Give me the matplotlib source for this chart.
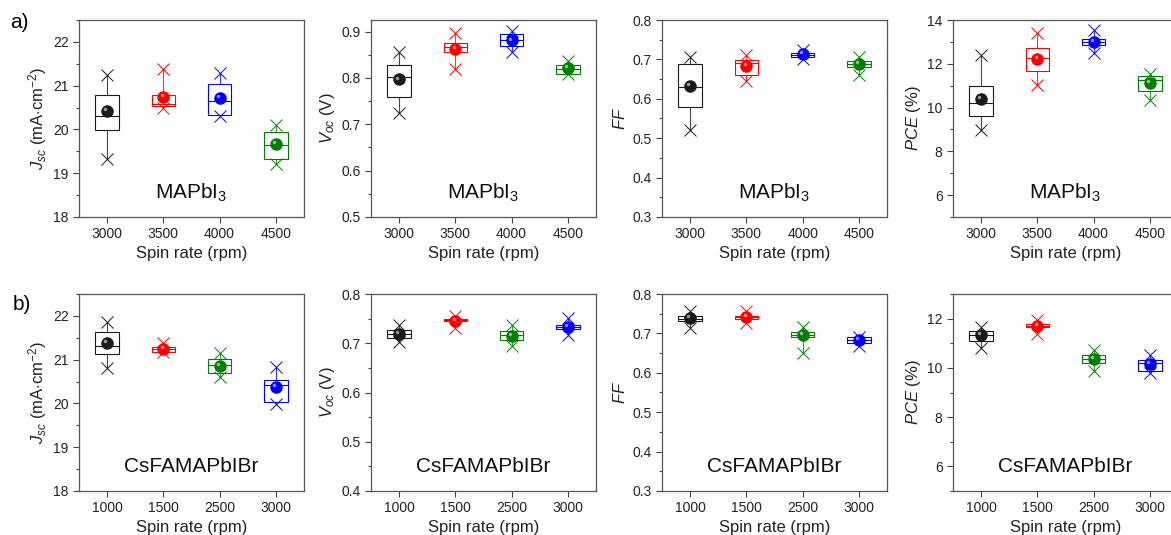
import numpy as np
import matplotlib
matplotlib.use("Agg")
import matplotlib.pyplot as plt
from matplotlib.transforms import offset_copy
from matplotlib.ticker import MultipleLocator

plt.rcParams['font.family'] = ['Liberation Sans', 'DejaVu Sans']
plt.rcParams['mathtext.fontset'] = 'custom'
plt.rcParams['mathtext.rm'] = 'Liberation Sans'
plt.rcParams['mathtext.it'] = 'Liberation Sans:italic'

########
# Data #
########
rates_a = ['3000', '3500', '4000', '4500']
rates_b = ['1000', '1500', '2500', '3000']
colors_a = ['#1a1a1a', 'red', 'blue', 'green']
colors_b = ['#1a1a1a', 'red', 'green', 'blue']

# a) MAPbI3 : min, q1, median, q3, max, mean
jsc_a_min = [19.33, 20.50, 20.30, 19.22]
jsc_a_q1 = [19.98, 20.53, 20.34, 19.33]
jsc_a_med = [20.31, 20.58, 20.66, 19.64]
jsc_a_q3 = [20.78, 20.78, 21.04, 19.94]
jsc_a_max = [21.25, 21.38, 21.28, 20.11]
jsc_a_mean = [20.43, 20.75, 20.72, 19.67]

voc_a_min = [0.725, 0.819, 0.855, 0.808]
voc_a_q1 = [0.759, 0.855, 0.868, 0.808]
voc_a_med = [0.803, 0.867, 0.881, 0.820]
voc_a_q3 = [0.827, 0.876, 0.895, 0.827]
voc_a_max = [0.855, 0.896, 0.901, 0.837]
voc_a_mean = [0.797, 0.863, 0.881, 0.821]

ff_a_min = [0.520, 0.645, 0.700, 0.661]
ff_a_q1 = [0.580, 0.660, 0.707, 0.680]
ff_a_med = [0.631, 0.690, 0.711, 0.689]
ff_a_q3 = [0.689, 0.698, 0.716, 0.696]
ff_a_max = [0.707, 0.711, 0.724, 0.705]
ff_a_mean = [0.632, 0.684, 0.713, 0.688]

pce_a_min = [8.99, 11.04, 12.48, 10.36]
pce_a_q1 = [9.60, 11.69, 12.88, 10.74]
pce_a_med = [10.20, 12.28, 13.01, 11.24]
pce_a_q3 = [10.99, 12.71, 13.15, 11.42]
pce_a_max = [12.38, 13.39, 13.54, 11.54]
pce_a_mean = [10.40, 12.24, 13.01, 11.12]

# b) CsFAMAPbIBr
jsc_b_min = [20.80, 21.17, 20.61, 19.99]
jsc_b_q1 = [21.12, 21.18, 20.69, 20.03]
jsc_b_med = [21.31, 21.25, 20.88, 20.42]
jsc_b_q3 = [21.63, 21.30, 21.01, 20.53]
jsc_b_max = [21.87, 21.38, 21.15, 20.84]
jsc_b_mean = [21.38, 21.24, 20.86, 20.37]

voc_b_min = [0.702, 0.731, 0.694, 0.716]
voc_b_q1 = [0.711, 0.746, 0.706, 0.729]
voc_b_med = [0.719, 0.748, 0.717, 0.734]
voc_b_q3 = [0.726, 0.749, 0.725, 0.738]
voc_b_max = [0.738, 0.756, 0.738, 0.751]
voc_b_mean = [0.719, 0.746, 0.715, 0.734]

ff_b_min = [0.714, 0.726, 0.650, 0.669]
ff_b_q1 = [0.731, 0.736, 0.690, 0.675]
ff_b_med = [0.737, 0.741, 0.697, 0.683]
ff_b_q3 = [0.745, 0.745, 0.703, 0.692]
ff_b_max = [0.758, 0.756, 0.716, 0.692]
ff_b_mean = [0.739, 0.742, 0.697, 0.684]

pce_b_min = [10.81, 11.39, 9.87, 9.78]
pce_b_q1 = [11.08, 11.64, 10.21, 9.87]
pce_b_med = [11.33, 11.72, 10.38, 10.18]
pce_b_q3 = [11.51, 11.80, 10.52, 10.34]
pce_b_max = [11.66, 11.93, 10.72, 10.54]
pce_b_mean = [11.33, 11.70, 10.35, 10.17]

#############
# Functions #
#############

def draw_panel(ax, stats, colors, labels, ylim, major, minor, ylabel, material):
    '''Origin-like box chart: box, median, whiskers with x at min/max, mean ball.'''
    vmin, q1, med, q3, vmax, mean = stats
    w = 0.42
    for i, c in enumerate(colors):
        ax.add_patch(plt.Rectangle((i - w / 2, q1[i]), w, q3[i] - q1[i],
                                   fill=False, edgecolor=c, lw=0.8))
        ax.plot([i - w / 2, i + w / 2], [med[i], med[i]], color=c, lw=0.8)
        if vmax[i] > q3[i]:
            ax.plot([i, i], [q3[i], vmax[i]], color=c, lw=0.8, alpha=0.8)
        if vmin[i] < q1[i]:
            ax.plot([i, i], [vmin[i], q1[i]], color=c, lw=0.8, alpha=0.8)
        ax.plot([i, i], [vmin[i], vmax[i]], ls='none', marker='x', ms=8.5,
                mew=0.7, color=c)
        ax.plot(i, mean[i], marker='o', ms=8, color=c, mec=c, zorder=5)
        shine = offset_copy(ax.transData, fig=ax.figure, x=-1.3, y=1.3, units='points')
        ax.plot(i, mean[i], marker='o', ms=2.5, color='white', alpha=0.55,
                mec='none', transform=shine, zorder=6)
    ax.set_xlim(-0.5, 3.5)
    ax.set_xticks(range(4))
    ax.set_xticklabels(labels)
    ax.set_ylim(*ylim)
    ax.yaxis.set_major_locator(MultipleLocator(major))
    ax.yaxis.set_minor_locator(MultipleLocator(minor))
    ax.tick_params(axis='both', which='major', direction='out', length=4,
                   width=0.8, labelsize=10, colors='#444444', labelcolor='#222222')
    ax.tick_params(axis='y', which='minor', direction='out', length=2.5,
                   width=0.8, colors='#444444')
    for s in ax.spines.values():
        s.set_color('#555555')
        s.set_linewidth(0.9)
    ax.set_xlabel('Spin rate (rpm)', fontsize=12, labelpad=3, color='#222222')
    ax.set_ylabel(ylabel, fontsize=12, labelpad=3, color='#222222')
    ax.text(0.5, 0.125, material, transform=ax.transAxes, ha='center',
            va='center', fontsize=15, color='#111111')


fig = plt.figure(figsize=(11.71, 5.35), dpi=100)
W, H = 1171.0, 535.0
lefts = [79, 371, 662, 953]
aw, ah = 225, 197
tops = [20, 294]

ylabels = [r'$J_{sc}$ (mA$\cdot$cm$^{-2}$)', r'$V_{oc}$ (V)', r'$FF$', r'$PCE$ (%)']

panels_a = [
    ((jsc_a_min, jsc_a_q1, jsc_a_med, jsc_a_q3, jsc_a_max, jsc_a_mean), (18, 22.5), 1, 0.5),
    ((voc_a_min, voc_a_q1, voc_a_med, voc_a_q3, voc_a_max, voc_a_mean), (0.5, 0.925), 0.1, 0.05),
    ((ff_a_min, ff_a_q1, ff_a_med, ff_a_q3, ff_a_max, ff_a_mean), (0.3, 0.8), 0.1, 0.05),
    ((pce_a_min, pce_a_q1, pce_a_med, pce_a_q3, pce_a_max, pce_a_mean), (5, 14), 2, 1),
]
panels_b = [
    ((jsc_b_min, jsc_b_q1, jsc_b_med, jsc_b_q3, jsc_b_max, jsc_b_mean), (18, 22.5), 1, 0.5),
    ((voc_b_min, voc_b_q1, voc_b_med, voc_b_q3, voc_b_max, voc_b_mean), (0.4, 0.8), 0.1, 0.05),
    ((ff_b_min, ff_b_q1, ff_b_med, ff_b_q3, ff_b_max, ff_b_mean), (0.3, 0.8), 0.1, 0.05),
    ((pce_b_min, pce_b_q1, pce_b_med, pce_b_q3, pce_b_max, pce_b_mean), (5, 13), 2, 1),
]

for row, (panels, colors, labels, material) in enumerate([
        (panels_a, colors_a, rates_a, r'MAPbI$_3$'),
        (panels_b, colors_b, rates_b, 'CsFAMAPbIBr')]):
    for k, (stats, ylim, major, minor) in enumerate(panels):
        rect = [lefts[k] / W, (H - tops[row] - ah) / H, aw / W, ah / H]
        ax = fig.add_axes(rect)
        draw_panel(ax, stats, colors, labels, ylim, major, minor, ylabels[k], material)

fig.text(10 / W, 1 - 23 / H, 'a)', fontsize=15, va='center', ha='left')
fig.text(13 / W, 1 - 305 / H, 'b)', fontsize=15, va='center', ha='left')

fig.savefig('out.png', dpi=100)
